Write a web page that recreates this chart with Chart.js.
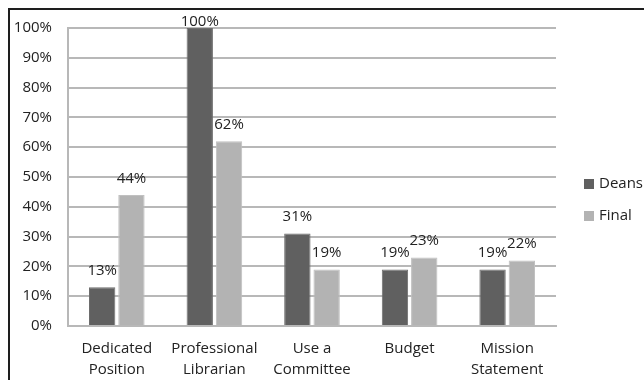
<!DOCTYPE html>
<html lang="en">
<head>
    <meta charset="UTF-8">
    <title>Deans vs Final</title>
    <script src="https://cdn.jsdelivr.net/npm/chart.js"></script>
    <style>
        body {
            margin: 0;
            background: #fff;
        }
        .frame {
            position: absolute;
            left: 8px;
            top: 8px;
            width: 634px;
            height: 372px;
            border-top: 2px solid #1e1e1e;
            border-left: 2px solid #1e1e1e;
        }
    </style>
</head>
<body>
    <div class="frame">
        <canvas id="barChart" width="634" height="372"></canvas>
    </div>
    <script>
        // Chart data
        const categories = [
            ['Dedicated', 'Position'],
            ['Professional', 'Librarian'],
            ['Use a', 'Committee'],
            ['Budget'],
            ['Mission', 'Statement']
        ];
        const seriesNames = ['Deans', 'Final'];
        const deansValues = [13, 100, 31, 19, 19];
        const finalValues = [44, 62, 19, 23, 22];
        const seriesColors = ['#606060', '#b3b3b3'];

        const FONT = '"Open Sans", "Liberation Sans", sans-serif';

        // Draws the percentage above each bar
        const valueLabels = {
            id: 'valueLabels',
            afterDatasetsDraw(chart) {
                const ctx = chart.ctx;
                const top = chart.chartArea.top;
                ctx.save();
                ctx.font = '15px ' + FONT;
                ctx.fillStyle = '#222';
                ctx.textAlign = 'center';
                ctx.textBaseline = 'bottom';
                chart.data.datasets.forEach((ds, i) => {
                    chart.getDatasetMeta(i).data.forEach((bar, j) => {
                        const y = Math.max(bar.y - 9, top + 1);
                        ctx.fillText(ds.data[j] + '%', bar.x, y);
                    });
                });
                ctx.restore();
            }
        };

        // Simple legend on the right side
        const sideLegend = {
            id: 'sideLegend',
            afterDraw(chart) {
                const ctx = chart.ctx;
                const x = chart.chartArea.right + 28;
                const midY = chart.height / 2 + 4;
                ctx.save();
                ctx.font = '15px ' + FONT;
                ctx.textBaseline = 'middle';
                chart.data.datasets.forEach((ds, i) => {
                    const y = midY + (i - 0.5) * 32;
                    ctx.fillStyle = ds.backgroundColor;
                    ctx.fillRect(x, y - 5, 10, 10);
                    ctx.fillStyle = '#222';
                    ctx.fillText(ds.label, x + 15, y);
                });
                ctx.restore();
            }
        };

        const ctx = document.getElementById('barChart').getContext('2d');
        new Chart(ctx, {
            type: 'bar',
            data: {
                labels: categories,
                datasets: [
                    {
                        label: seriesNames[0],
                        data: deansValues,
                        backgroundColor: seriesColors[0],
                        borderColor: '#6e6e6e',
                        borderWidth: 1
                    },
                    {
                        label: seriesNames[1],
                        data: finalValues,
                        backgroundColor: seriesColors[1],
                        borderColor: '#c0c0c0',
                        borderWidth: 1
                    }
                ]
            },
            options: {
                responsive: false,
                animation: false,
                categoryPercentage: 0.6,
                barPercentage: 0.9,
                layout: {
                    padding: { top: 18, right: 88, bottom: 0, left: 0 }
                },
                plugins: {
                    legend: { display: false },
                    tooltip: { enabled: false }
                },
                scales: {
                    x: {
                        grid: { display: false, drawTicks: false },
                        border: { display: true, color: '#b8b8b8', width: 2 },
                        ticks: {
                            padding: 12,
                            color: '#222',
                            maxRotation: 0,
                            font: { family: FONT, size: 15, lineHeight: 1.4 }
                        },
                        afterFit(scale) {
                            scale.height = 56;
                            scale.paddingLeft = 0;
                            scale.paddingRight = 0;
                        }
                    },
                    y: {
                        min: 0,
                        max: 100,
                        grid: { color: '#b8b8b8', lineWidth: 2, drawTicks: false },
                        border: { display: true, color: '#b8b8b8', width: 2 },
                        ticks: {
                            stepSize: 10,
                            padding: 16,
                            color: '#222',
                            font: { family: FONT, size: 15 },
                            callback: v => v + '%'
                        },
                        afterFit(scale) {
                            scale.width = 58;
                            scale.paddingTop = 0;
                            scale.paddingBottom = 0;
                        }
                    }
                }
            },
            plugins: [valueLabels, sideLegend]
        });
    </script>
</body>
</html>
